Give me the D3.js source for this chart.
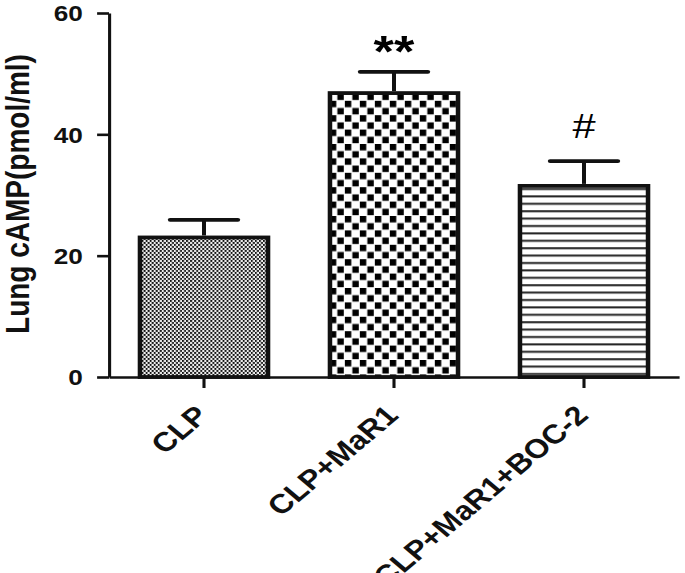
<!DOCTYPE html>
<html>
<head>
<meta charset="utf-8">
<script src="https://cdn.jsdelivr.net/npm/d3@7/dist/d3.min.js"></script>
<style>
  body { margin: 0; background: #fff; }
  text { font-family: "Liberation Sans", Arial, sans-serif; }
</style>
</head>
<body>
<div id="chart"></div>
<script>
var groups = ['CLP', 'CLP+MaR1', 'CLP+MaR1+BOC-2'];
var means = [23.0, 46.8, 31.5];
var errors = [2.9, 3.5, 4.1];
var marks = ['', '**', '#'];
var yTicks = [0, 20, 40, 60];

var W = 685, H = 573;
// the source figure is stretched sideways, so draw in a narrower space and scale x
var sx = 1.19;

var svg = d3.select('#chart').append('svg')
  .attr('width', W)
  .attr('height', H);

var defs = svg.append('defs');

// fine stipple
var p1 = defs.append('pattern').attr('id', 'dots')
  .attr('patternUnits', 'userSpaceOnUse')
  .attr('width', 3.4).attr('height', 4);
p1.append('rect').attr('width', 3.4).attr('height', 4).attr('fill', '#eee');
p1.append('rect').attr('x', 0).attr('y', 0).attr('width', 1.6).attr('height', 1.9).attr('fill', '#111');
p1.append('rect').attr('x', 1.7).attr('y', 2).attr('width', 1.6).attr('height', 1.9).attr('fill', '#111');

// checker
var p2 = defs.append('pattern').attr('id', 'checker')
  .attr('patternUnits', 'userSpaceOnUse')
  .attr('width', 12.6).attr('height', 14.4);
p2.append('rect').attr('width', 12.6).attr('height', 14.4).attr('fill', '#fff');
p2.append('rect').attr('x', 0).attr('y', 0).attr('width', 5.4).attr('height', 6.4).attr('fill', '#000');
p2.append('rect').attr('x', 6.3).attr('y', 7.2).attr('width', 5.4).attr('height', 6.4).attr('fill', '#000');

// horizontal lines
var p3 = defs.append('pattern').attr('id', 'hlines')
  .attr('patternUnits', 'userSpaceOnUse')
  .attr('width', 10).attr('height', 7.4);
p3.append('rect').attr('width', 10).attr('height', 7.4).attr('fill', '#fff');
p3.append('rect').attr('x', 0).attr('y', 3).attr('width', 10).attr('height', 2).attr('fill', '#222');

var fills = ['url(#dots)', 'url(#checker)', 'url(#hlines)'];

var g = svg.append('g').attr('transform', 'scale(' + sx + ',1)');

var x = d3.scaleBand()
  .domain(groups)
  .range([109 / sx, 679 / sx])
  .paddingInner(0.326)
  .paddingOuter(0.163);

var y = d3.scaleLinear()
  .domain([0, 60])
  .range([377, 13]);

var rows = groups.map(function(d, i) {
  return {name: d, mean: means[i], err: errors[i], mark: marks[i], fill: fills[i]};
});

// bars
g.selectAll('.bar').data(rows).enter()
  .append('rect')
    .attr('class', 'bar')
    .attr('x', function(d) { return x(d.name); })
    .attr('y', function(d) { return y(d.mean); })
    .attr('width', x.bandwidth())
    .attr('height', function(d) { return y(0) - y(d.mean); })
    .attr('fill', function(d) { return d.fill; })
    .attr('stroke', '#111')
    .attr('stroke-width', 3.8);

// error bars (upper only)
var capW = 57;
var eb = g.selectAll('.err').data(rows).enter().append('g').attr('class', 'err');
eb.append('line')
  .attr('x1', function(d) { return x(d.name) + x.bandwidth() / 2; })
  .attr('x2', function(d) { return x(d.name) + x.bandwidth() / 2; })
  .attr('y1', function(d) { return y(d.mean) - 2; })
  .attr('y2', function(d) { return y(d.mean + d.err); })
  .attr('stroke', '#111').attr('stroke-width', 3.4);
eb.append('line')
  .attr('x1', function(d) { return x(d.name) + x.bandwidth() / 2 - capW / 2; })
  .attr('x2', function(d) { return x(d.name) + x.bandwidth() / 2 + capW / 2; })
  .attr('y1', function(d) { return y(d.mean + d.err); })
  .attr('y2', function(d) { return y(d.mean + d.err); })
  .attr('stroke', '#111').attr('stroke-width', 3.8)
  .attr('stroke-linecap', 'round');

// significance marks
eb.filter(function(d) { return d.mark === '**'; }).append('text')
  .attr('x', function(d) { return x(d.name) + x.bandwidth() / 2; })
  .attr('y', function(d) { return y(d.mean + d.err) - 5; })
  .attr('text-anchor', 'middle')
  .style('font-size', '44px').style('font-weight', 'bold')
  .text(function(d) { return d.mark; });
eb.filter(function(d) { return d.mark === '#'; }).append('text')
  .attr('x', function(d) { return x(d.name) + x.bandwidth() / 2; })
  .attr('y', function(d) { return y(d.mean + d.err) - 23; })
  .attr('text-anchor', 'middle')
  .style('font-size', '35px')
  .text(function(d) { return d.mark; });

// y axis
var yAxis = g.append('g')
  .attr('transform', 'translate(' + (109 / sx) + ',0)')
  .call(d3.axisLeft(y).tickValues(yTicks).tickSize(10).tickSizeOuter(0).tickPadding(12));
yAxis.selectAll('path, line').attr('stroke', '#111').attr('stroke-width', 2.6);
yAxis.selectAll('text')
  .style('font-size', '22px').style('font-weight', 'bold')
  .attr('fill', '#111')
  .attr('dy', '0.36em');

// x axis
var xAxis = g.append('g')
  .attr('transform', 'translate(0,' + y(0) + ')')
  .call(d3.axisBottom(x).tickSize(11).tickSizeOuter(0));
xAxis.selectAll('path, line').attr('stroke', '#111').attr('stroke-width', 2.6);
xAxis.selectAll('text').remove();
xAxis.selectAll('.tick').append('text')
  .attr('text-anchor', 'end')
  .attr('fill', '#111')
  .attr('transform', 'translate(' + (6 / sx) + ',40) rotate(-45)')
  .style('font-size', '27px').style('font-weight', 'bold')
  .text(function(d) { return d; });

// y title
g.append('text')
  .attr('transform', 'translate(' + (29 / sx) + ',194) rotate(-90)')
  .attr('text-anchor', 'middle')
  .attr('fill', '#111')
  .style('font-size', '28px').style('font-weight', 'bold')
  .text('Lung cAMP(pmol/ml)');
</script>
</body>
</html>
